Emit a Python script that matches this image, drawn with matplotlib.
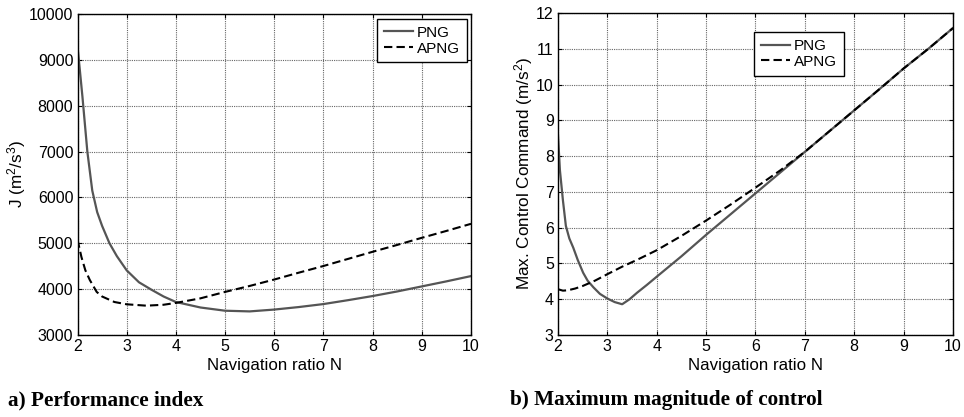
import matplotlib
matplotlib.use('Agg')

import matplotlib.pyplot as plt

plt.rcParams['font.family'] = ['Liberation Sans', 'DejaVu Sans']
plt.rcParams['mathtext.default'] = 'regular'

# left panel: performance index J
n_png_j = [2.0, 2.1, 2.2, 2.3, 2.4, 2.5, 2.65, 2.8, 3.0, 3.25, 3.5, 3.75, 4.0, 4.5, 5.0,
           5.5, 6.0, 6.5, 7.0, 7.5, 8.0, 8.5, 9.0, 9.5, 10.0]
j_png = [9300, 8200, 7000, 6150, 5680, 5380, 5000, 4720, 4410, 4150, 3990, 3840, 3720, 3600, 3530,
         3515, 3555, 3610, 3675, 3760, 3850, 3950, 4060, 4170, 4285]

n_apng_j = [2.0, 2.08, 2.16, 2.25, 2.39, 2.5, 2.75, 3.0, 3.4, 3.75, 4.0, 4.5, 5.0, 5.5, 6.0,
            6.5, 7.0, 7.5, 8.0, 8.5, 9.0, 9.5, 10.0]
j_apng = [5080, 4700, 4410, 4200, 3940, 3840, 3720, 3670, 3640, 3660, 3700, 3800, 3940, 4070, 4210,
          4360, 4505, 4660, 4815, 4965, 5120, 5270, 5425]

# right panel: max control command
n_png_u = [2.0, 2.04, 2.1, 2.16, 2.23, 2.31, 2.4, 2.51, 2.6, 2.72, 2.85, 3.0, 3.15, 3.3, 3.45,
           3.6, 3.8, 4.0, 4.5, 5.0, 5.5, 6.0, 6.5, 7.0, 7.5, 8.0, 8.5, 9.0, 9.5, 10.0]
u_png = [8.6, 7.6, 6.77, 6.05, 5.7, 5.44, 5.1, 4.74, 4.52, 4.33, 4.15, 4.02, 3.92, 3.86, 4.0,
         4.18, 4.4, 4.63, 5.2, 5.8, 6.38, 6.96, 7.54, 8.12, 8.7, 9.28, 9.86, 10.45, 11.0, 11.58]

n_apng_u = [2.0, 2.1, 2.2, 2.35, 2.5, 2.75, 3.0, 3.3, 3.6, 4.0, 4.5, 5.0, 5.5, 6.0, 6.5,
            7.0, 7.5, 8.0, 8.5, 9.0, 9.5, 10.0]
u_apng = [4.28, 4.24, 4.25, 4.3, 4.37, 4.52, 4.7, 4.91, 5.1, 5.37, 5.77, 6.2, 6.65, 7.12, 7.6,
          8.12, 8.7, 9.28, 9.86, 10.45, 11.0, 11.58]

x_ticks = [2, 3, 4, 5, 6, 7, 8, 9, 10]
j_ticks = [3000, 4000, 5000, 6000, 7000, 8000, 9000, 10000]
u_ticks = [3, 4, 5, 6, 7, 8, 9, 10, 11, 12]


def style_axes(ax):
	ax.grid(True, color='#666666', linestyle=(0, (1, 1)), linewidth=0.8)
	ax.tick_params(direction='in', top=True, right=True, labelsize=11.5, length=3, pad=3)
	for s in ax.spines.values():
		s.set_linewidth(1.0)
		s.set_color('black')
	ax.set_xlabel('Navigation ratio N', fontsize=12.2, labelpad=3)


def add_legend(ax, anchor, loc):
	leg = ax.legend(loc=loc, bbox_to_anchor=anchor, fontsize=11, fancybox=False,
	                edgecolor='black', framealpha=1, borderpad=0.45, handlelength=1.9,
	                handletextpad=0.25, labelspacing=0.12, borderaxespad=0)
	leg.get_frame().set_linewidth(1.0)
	return leg


fig = plt.figure(figsize=(9.64, 4.17), dpi=100)

ax1 = fig.add_axes([0.0804, 0.1966, 0.4082, 0.7698])
ax1.plot(n_png_j, j_png, color='#555555', lw=1.6, label='PNG')
ax1.plot(n_apng_j, j_apng, color='black', lw=1.5, ls=(0, (4, 2)), label='APNG')
ax1.set_xlim(2, 10)
ax1.set_ylim(3000, 10000)
ax1.set_xticks(x_ticks)
ax1.set_yticks(j_ticks)
style_axes(ax1)
ax1.set_ylabel('J (m$^2$/s$^3$)', fontsize=12.3, labelpad=1)
add_legend(ax1, (0.99, 0.985), 'upper right')

ax2 = fig.add_axes([0.5788, 0.1966, 0.4098, 0.7722])
ax2.plot(n_png_u, u_png, color='#555555', lw=1.6, label='PNG')
ax2.plot(n_apng_u, u_apng, color='black', lw=1.5, ls=(0, (4, 2)), label='APNG')
ax2.set_xlim(2, 10)
ax2.set_ylim(3, 12)
ax2.set_xticks(x_ticks)
ax2.set_yticks(u_ticks)
style_axes(ax2)
ax2.set_ylabel('Max. Control Command (m/s$^2$)', fontsize=12.3, labelpad=1)
add_legend(ax2, (0.496, 0.941), 'upper left')

fig.text(8 / 964, 1 - 400 / 417, 'a) Performance index', fontsize=15.3, fontweight='bold',
         family='Liberation Serif', va='center', ha='left')
fig.text(510 / 964, 1 - 400 / 417, 'b) Maximum magnitude of control', fontsize=15.3,
         fontweight='bold', family='Liberation Serif', va='center', ha='left')

fig.savefig('out.png', dpi=100)
